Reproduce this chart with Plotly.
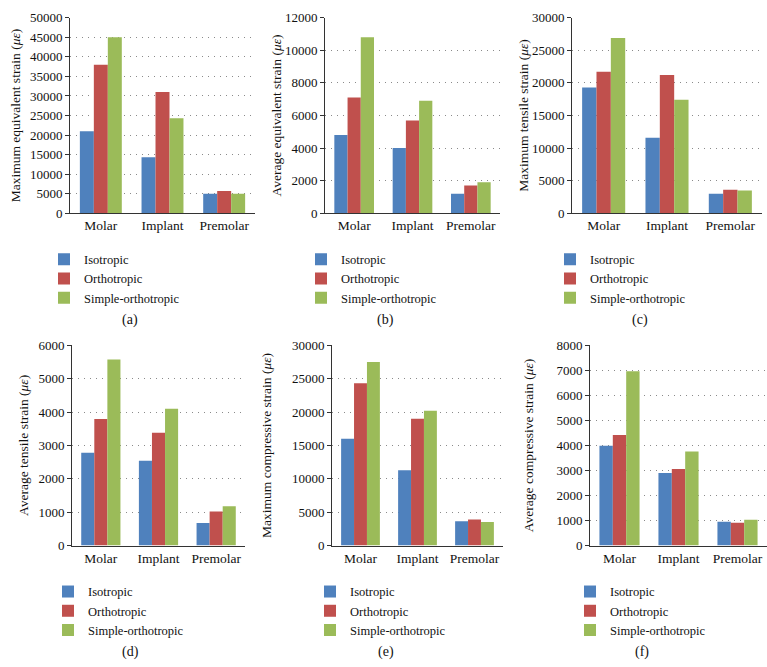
import plotly.graph_objects as go

categories = ["Molar", "Implant", "Premolar"]
series_names = ["Isotropic", "Orthotropic", "Simple-orthotropic"]
colors = ["#4F81BD", "#C0504D", "#9BBB59"]

# (a) Maximum equivalent strain
a_iso = [21000, 14300, 5000]
a_ortho = [38000, 31000, 5700]
a_simple = [45000, 24300, 5000]
# (b) Average equivalent strain
b_iso = [4800, 4000, 1200]
b_ortho = [7100, 5700, 1700]
b_simple = [10800, 6900, 1900]
# (c) Maximum tensile strain
c_iso = [19300, 11600, 3000]
c_ortho = [21700, 21200, 3600]
c_simple = [26900, 17400, 3500]
# (d) Average tensile strain
d_iso = [2780, 2540, 680]
d_ortho = [3790, 3380, 1020]
d_simple = [5570, 4100, 1180]
# (e) Maximum compressive strain
e_iso = [16000, 11300, 3650]
e_ortho = [24300, 19000, 3900]
e_simple = [27500, 20200, 3550]
# (f) Average compressive strain
f_iso = [3990, 2900, 950]
f_ortho = [4420, 3060, 910]
f_simple = [6960, 3760, 1030]

panels = [
    ("(a)", "Maximum equivalent strain (<i>με</i>)", [a_iso, a_ortho, a_simple], 50000, 5000),
    ("(b)", "Average equivalent strain (<i>με</i>)", [b_iso, b_ortho, b_simple], 12000, 2000),
    ("(c)", "Maximum tensile strain (<i>με</i>)", [c_iso, c_ortho, c_simple], 30000, 5000),
    ("(d)", "Average tensile strain (<i>με</i>)", [d_iso, d_ortho, d_simple], 6000, 1000),
    ("(e)", "Maximum compressive strain (<i>με</i>)", [e_iso, e_ortho, e_simple], 30000, 5000),
    ("(f)", "Average compressive strain (<i>με</i>)", [f_iso, f_ortho, f_simple], 8000, 1000),
]

W, H = 767, 667
# plot-area pixel boxes: (left, right, top, bottom)
boxes = [
    (70, 255, 11, 211),
    (325, 500, 11, 211),
    (572, 762, 11, 211),
    (72, 245, 346, 551),
    (332, 503, 346, 551),
    (590, 767, 346, 551),
]
standoffs = [6, 0, 0, 6, 17, 19]
legend_x = [44, 301, 550, 48, 310, 570]
legend_y = [243, 243, 243, 583, 583, 583]
caption_x = [130, 385, 640, 130, 386, 642]
caption_y = [320, 320, 320, 660, 660, 660]

FONT = "Liberation Serif"
fig = go.Figure()
layout = dict(
    width=W, height=H,
    margin=dict(l=0, r=0, t=0, b=0),
    paper_bgcolor="white", plot_bgcolor="white",
    barmode="group", bargap=0.32, bargroupgap=0,
    font=dict(family=FONT, size=12, color="#111"),
    annotations=[],
)

for i, (cap, ytitle, vals, ymax, dtick) in enumerate(panels):
    n = "" if i == 0 else str(i + 1)
    leg = "legend" + n
    for s in range(3):
        fig.add_trace(go.Bar(
            x=categories, y=vals[s], name=series_names[s],
            marker=dict(color=colors[s], line=dict(width=0)),
            xaxis="x" + n, yaxis="y" + n, legend=leg,
        ))
    l, r, t, b = boxes[i]
    layout["xaxis" + n] = dict(
        domain=[l / W, r / W], anchor="y" + n,
        showline=True, linecolor="#333", linewidth=1,
        ticks="", showgrid=False,
        tickfont=dict(family=FONT, size=13.5, color="#111"),
    )
    layout["yaxis" + n] = dict(
        domain=[1 - b / H, 1 - t / H], anchor="x" + n,
        range=[0, ymax], dtick=dtick, tick0=0, tickformat="d",
        showline=True, linecolor="#333", linewidth=1,
        ticks="outside", ticklen=4, tickcolor="#333",
        showgrid=True, gridcolor="#8a8a8a", griddash="1px,5px", gridwidth=1,
        zeroline=False,
        tickfont=dict(family=FONT, size=13, color="#111"),
        title=dict(text=ytitle, font=dict(family=FONT, size=13.5, color="#111"),
                   standoff=standoffs[i]),
    )
    layout[leg] = dict(
        x=legend_x[i] / W, y=1 - legend_y[i] / H, xanchor="left", yanchor="top",
        orientation="v", bgcolor="rgba(0,0,0,0)",
        font=dict(family=FONT, size=12.5, color="#111"),
        itemwidth=30, tracegroupgap=0,
    )
    layout["annotations"].append(dict(
        text=cap, x=caption_x[i] / W, y=1 - caption_y[i] / H,
        xref="paper", yref="paper", xanchor="center", yanchor="middle",
        showarrow=False,
        font=dict(family=FONT, size=14, color="#111"),
    ))

fig.update_layout(**layout)
fig.write_html(
    "out.html",
    config={"displayModeBar": False},
    post_script="document.body.style.margin='0';document.body.style.padding='0';",
)
